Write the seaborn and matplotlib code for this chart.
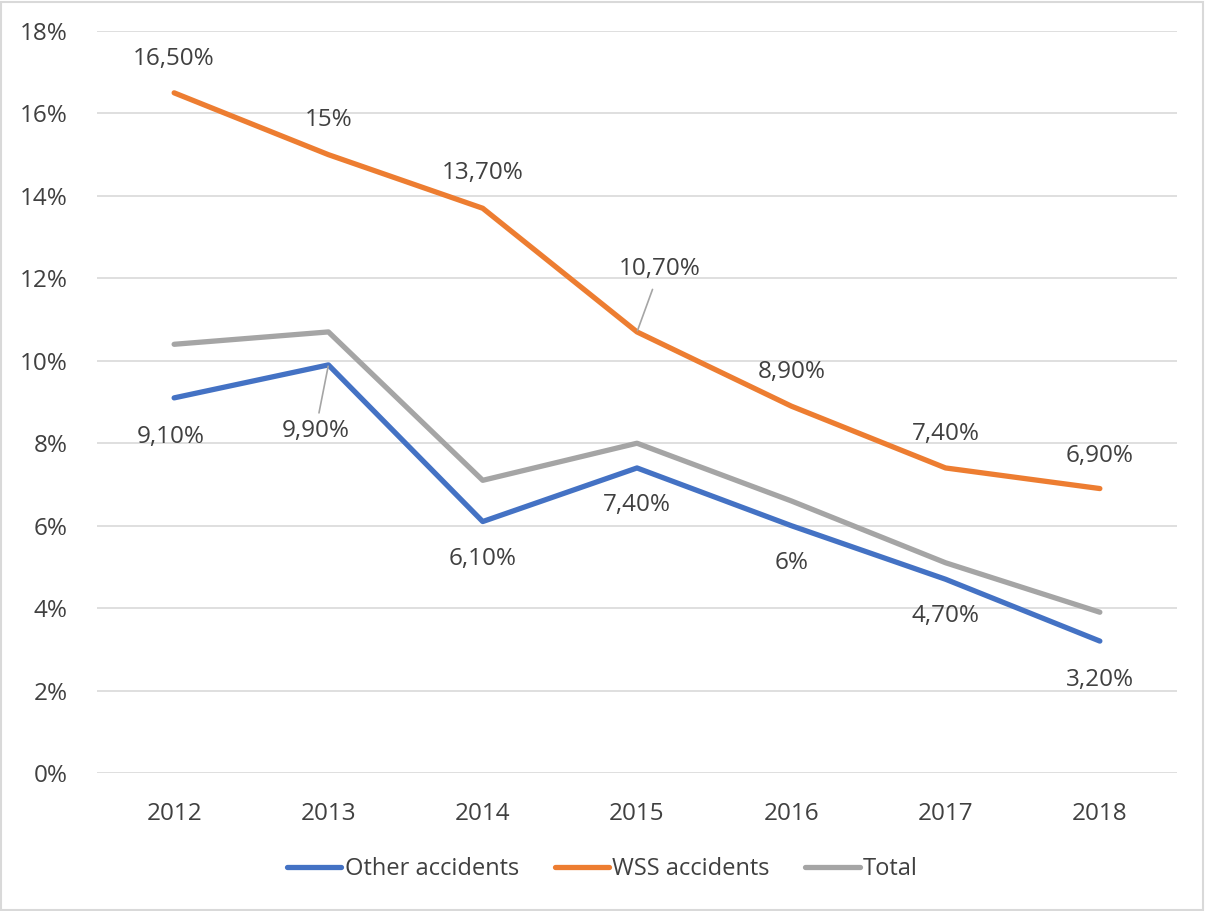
import matplotlib
matplotlib.use("Agg")
import matplotlib.pyplot as plt
import seaborn as sns
import pandas as pd
from matplotlib.patches import Rectangle

years = ["2012", "2013", "2014", "2015", "2016", "2017", "2018"]
other = [9.1, 9.9, 6.1, 7.4, 6.0, 4.7, 3.2]
wss = [16.5, 15.0, 13.7, 10.7, 8.9, 7.4, 6.9]
total = [10.4, 10.7, 7.1, 8.0, 6.6, 5.1, 3.9]
other_labels = ["9,10%", "9,90%", "6,10%", "7,40%", "6%", "4,70%", "3,20%"]
wss_labels = ["16,50%", "15%", "13,70%", "10,70%", "8,90%", "7,40%", "6,90%"]
series_names = ["Other accidents", "WSS accidents", "Total"]
colors = ["#4472C4", "#ED7D31", "#A5A5A5"]
yticks = list(range(0, 19, 2))

df = pd.DataFrame({
    "year": years * 3,
    "value": other + wss + total,
    "series": [series_names[0]] * 7 + [series_names[1]] * 7 + [series_names[2]] * 7,
})

sns.set_theme(style="white")
plt.rcParams["font.family"] = ["Open Sans", "DejaVu Sans"]
txt = "#404040"
fs = 17.5

fig = plt.figure(figsize=(12.05, 9.11), dpi=100)
ax = fig.add_axes([97 / 1205, 1 - 773 / 911, (1177 - 97) / 1205, (773 - 31) / 911])

sns.lineplot(data=df, x="year", y="value", hue="series", hue_order=series_names,
             palette=colors, linewidth=3.8, ax=ax, legend=True, sort=False)

ax.set_xlim(-0.5, 6.5)
ax.set_ylim(0, 18)
ax.set_yticks(yticks)
ax.set_yticklabels([f"{t}%" for t in yticks])
ax.grid(axis="y", color="#D9D9D9", linewidth=1.2)
ax.set_axisbelow(True)
for s in ax.spines.values():
    s.set_visible(False)
ax.tick_params(axis="y", length=0, pad=21, labelsize=fs, labelcolor=txt)
ax.tick_params(axis="x", length=0, pad=21, labelsize=fs, labelcolor=txt)
ax.set_xlabel("")
ax.set_ylabel("")

# Other accidents labels (below)
other_off = [(-3, -39), (-13, -66), (0, -37), (0, -37), (0, -37), (0, -37), (0, -39)]
for i, (lab, v) in enumerate(zip(other_labels, other)):
    dx, dy = other_off[i]
    kw = {}
    if i == 1:
        kw["arrowprops"] = dict(arrowstyle="-", color="#A5A5A5", lw=1.2, shrinkA=2, shrinkB=1)
    ax.annotate(lab, xy=(i, v), xytext=(dx, dy), textcoords="offset pixels",
                ha="center", va="center", fontsize=fs, color=txt, **kw)

# WSS labels (above)
wss_off = [(0, 34), (0, 35), (0, 35), (23, 63), (0, 34), (0, 34), (0, 33)]
for i, (lab, v) in enumerate(zip(wss_labels, wss)):
    dx, dy = wss_off[i]
    kw = {}
    if i == 3:
        kw["arrowprops"] = dict(arrowstyle="-", color="#A5A5A5", lw=1.2, shrinkA=4, shrinkB=1)
    ax.annotate(lab, xy=(i, v), xytext=(dx, dy), textcoords="offset pixels",
                ha="center", va="center", fontsize=fs, color=txt, **kw)

handles, labels = ax.get_legend_handles_labels()
ax.get_legend().remove()
leg = fig.legend(handles, labels, loc="center", bbox_to_anchor=(0.5, 1 - 869 / 911),
                 ncol=3, frameon=False, fontsize=17, handlelength=2.3,
                 handletextpad=0.15, columnspacing=1.5, labelcolor=txt)
for h in leg.get_lines():
    h.set_linewidth(3.8)
    h.set_solid_capstyle("round")

fig.patches.append(Rectangle((0.001, 0.001), 0.997, 0.997, transform=fig.transFigure,
                             fill=False, edgecolor="#D9D9D9", linewidth=1.5))

fig.savefig("out.png", dpi=100)
